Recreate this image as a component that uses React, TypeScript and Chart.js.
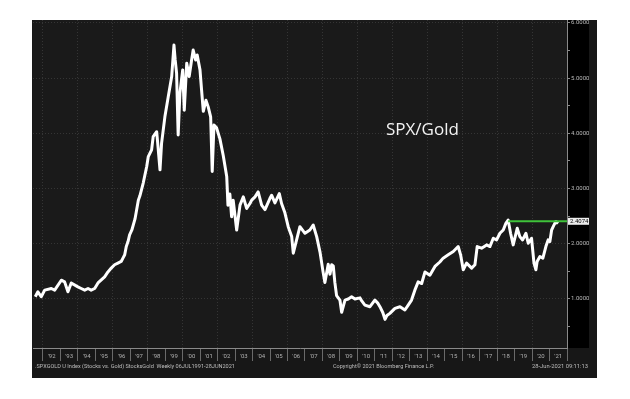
import React, { useEffect, useRef } from "react";
import { Chart, registerables } from "chart.js";

Chart.register(...registerables);

// ---- data ----
const years = [
  1991.56, 1991.71, 1991.9, 1992.1, 1992.48, 1992.67, 1993.05, 1993.24, 1993.43, 1993.62,
  1994.0, 1994.19, 1994.39, 1994.58, 1994.76, 1994.96, 1995.15, 1995.53, 1995.72, 1995.91,
  1996.1, 1996.29, 1996.48, 1996.58, 1996.68, 1996.77, 1996.87, 1996.96, 1997.09, 1997.27,
  1997.46, 1997.55, 1997.74, 1997.94, 1998.03, 1998.22, 1998.31, 1998.51, 1998.57, 1998.7,
  1998.79, 1998.98, 1999.17, 1999.37, 1999.5, 1999.57, 1999.65, 1999.74, 1999.84, 2000.0,
  2000.09, 2000.23, 2000.37, 2000.51, 2000.6, 2000.74, 2000.83, 2000.99, 2001.08, 2001.18,
  2001.33, 2001.46, 2001.6, 2001.69, 2001.79, 2001.94, 2002.13, 2002.32, 2002.52, 2002.59,
  2002.7, 2002.8, 2002.89, 2003.09, 2003.28, 2003.47, 2003.66, 2003.85, 2003.95, 2004.14,
  2004.32, 2004.52, 2004.71, 2004.99, 2005.09, 2005.28, 2005.53, 2005.66, 2005.85, 2006.04,
  2006.24, 2006.33, 2006.52, 2006.71, 2007.0, 2007.28, 2007.47, 2007.67, 2007.86, 2008.03,
  2008.14, 2008.33, 2008.43, 2008.53, 2008.62, 2008.71, 2008.81, 2009.0, 2009.1, 2009.29,
  2009.48, 2009.67, 2009.86, 2010.15, 2010.26, 2010.43, 2010.72, 2011.0, 2011.18, 2011.29,
  2011.46, 2011.58, 2011.69, 2011.86, 2012.15, 2012.44, 2012.72, 2012.91, 2013.1, 2013.29,
  2013.48, 2013.68, 2013.87, 2014.15, 2014.44, 2014.72, 2014.91, 2015.2, 2015.49, 2015.77,
  2015.91, 2016.06, 2016.25, 2016.54, 2016.73, 2016.86, 2017.11, 2017.4, 2017.59, 2017.78,
  2017.97, 2018.16, 2018.35, 2018.5, 2018.63, 2018.77, 2018.92, 2019.15, 2019.3, 2019.46,
  2019.65, 2019.78, 2019.97, 2020.11, 2020.22, 2020.29, 2020.45, 2020.62, 2020.79, 2020.92,
  2021.02, 2021.12, 2021.21, 2021.35, 2021.42, 2021.48,
];

const ratio = [
  1.04, 1.13, 1.04, 1.16, 1.19, 1.16, 1.34, 1.31, 1.13, 1.29,
  1.22, 1.19, 1.16, 1.19, 1.16, 1.19, 1.29, 1.4, 1.49, 1.56,
  1.62, 1.65, 1.68, 1.74, 1.8, 1.95, 2.04, 2.16, 2.25, 2.45,
  2.79, 2.87, 3.1, 3.4, 3.58, 3.7, 3.94, 4.03, 3.82, 3.34,
  3.82, 4.3, 4.66, 5.03, 5.6, 5.33, 5.09, 3.97, 4.73, 5.15,
  4.42, 5.27, 5.03, 5.33, 5.51, 5.33, 5.42, 5.15, 4.79, 4.4,
  4.6, 4.48, 4.3, 3.31, 4.15, 4.1, 3.9, 3.6, 3.22, 2.7,
  2.9, 2.49, 2.79, 2.25, 2.7, 2.85, 2.64, 2.73, 2.79, 2.85,
  2.94, 2.7, 2.62, 2.82, 2.88, 2.74, 2.91, 2.73, 2.56, 2.31,
  2.13, 1.83, 2.07, 2.31, 2.19, 2.25, 2.34, 2.13, 1.85, 1.5,
  1.3, 1.63, 1.45, 1.62, 1.6, 1.3, 1.06, 0.98, 0.76, 0.98,
  1.0, 1.04, 1.0, 1.02, 0.96, 0.89, 0.86, 0.98, 0.92, 0.86,
  0.75, 0.63, 0.7, 0.74, 0.83, 0.86, 0.8, 0.89, 0.98, 1.16,
  1.31, 1.28, 1.49, 1.43, 1.59, 1.67, 1.74, 1.8, 1.86, 1.95,
  1.8, 1.53, 1.65, 1.56, 1.62, 1.95, 1.92, 1.98, 1.95, 2.1,
  2.07, 2.19, 2.25, 2.37, 2.43, 2.19, 1.98, 2.28, 2.13, 2.07,
  2.19, 2.01, 2.1, 1.65, 1.53, 1.68, 1.77, 1.74, 1.95, 2.07,
  2.04, 2.25, 2.31, 2.4, 2.38, 2.41,
];

const lastValue = 2.4074;
const levelStart = 2018.63;
const levelEnd = 2022.0;

const tickYears = [
  1992, 1993, 1994, 1995, 1996, 1997, 1998, 1999, 2000, 2001, 2002, 2003, 2004, 2005, 2006,
  2007, 2008, 2009, 2010, 2011, 2012, 2013, 2014, 2015, 2016, 2017, 2018, 2019, 2020, 2021,
];
const yearLabels = [
  "'92", "'93", "'94", "'95", "'96", "'97", "'98", "'99", "'00", "'01", "'02", "'03", "'04", "'05", "'06",
  "'07", "'08", "'09", "'10", "'11", "'12", "'13", "'14", "'15", "'16", "'17", "'18", "'19", "'20", "'21",
];
const yTickValues = [0.5, 1, 1.5, 2, 2.5, 3, 3.5, 4, 4.5, 5, 5.5, 6];

const titleText = "SPX/Gold";
const footerLeft = ".SPXGOLD U Index (Stocks vs. Gold) StocksGold  Weekly 06JUL1991-28JUN2021";
const footerMid = "Copyright\u00A9 2021 Bloomberg Finance L.P.";
const footerRight = "28-Jun-2021 09:11:13";

const decorPlugin = {
  id: "decor",
  beforeDraw(chart: any) {
    const { ctx, chartArea: a } = chart;
    ctx.save();
    ctx.fillStyle = "#ffffff";
    ctx.fillRect(0, 0, chart.width, chart.height);
    ctx.fillStyle = "#171717";
    ctx.fillRect(a.left - 1, a.top, 597 - (a.left - 1), 378 - a.top);
    ctx.fillStyle = "#1a1a1a";
    ctx.fillRect(a.left, a.top, a.right - a.left, a.bottom - a.top);
    ctx.fillStyle = "#000000";
    ctx.fillRect(a.right, a.top, 22, a.bottom - a.top);
    ctx.restore();
  },
  afterDraw(chart: any) {
    const { ctx, chartArea: a } = chart;
    const yS = chart.scales.y;
    ctx.save();
    // title text
    ctx.fillStyle = "#f2f2f2";
    ctx.font = "17px 'Open Sans'";
    ctx.textBaseline = "middle";
    ctx.textAlign = "left";
    ctx.fillText(titleText, 386, 130);
    // last value label
    const py = yS.getPixelForValue(lastValue);
    ctx.fillStyle = "#ececec";
    ctx.fillRect(a.right + 1, py - 3.5, 21, 7);
    ctx.fillStyle = "#000";
    ctx.font = "6px Roboto";
    ctx.fillText(lastValue.toFixed(4), a.right + 3, py + 0.5);
    // footer
    ctx.fillStyle = "#bdbdbd";
    ctx.font = "6px Roboto";
    ctx.fillText(footerLeft, 35, 366.5, 200);
    ctx.fillText(footerMid, 333, 366.5, 101);
    ctx.fillText(footerRight, 532, 366.5, 56);
    ctx.restore();
  },
};

export default function App() {
  const ref = useRef<HTMLCanvasElement | null>(null);
  useEffect(() => {
    document.body.style.margin = "0";
    const canvas = ref.current!;
    const chart = new Chart(canvas, {
      type: "line",
      data: {
        datasets: [
          {
            data: [
              { x: levelStart, y: lastValue },
              { x: levelEnd, y: lastValue },
            ],
            borderColor: "#3fc23a",
            borderWidth: 2,
            pointRadius: 0,
          },
          {
            data: years.map((x, i) => ({ x, y: ratio[i] })),
            borderColor: "#ffffff",
            borderWidth: 3,
            pointRadius: 0,
            tension: 0,
            borderJoinStyle: "round",
          },
        ],
      },
      options: {
        animation: false,
        responsive: false,
        devicePixelRatio: 1,
        layout: { padding: { left: 33, top: 20, right: 41, bottom: 21 } },
        plugins: { legend: { display: false }, tooltip: { enabled: false } },
        scales: {
          x: {
            type: "linear",
            min: 1991.43,
            max: 2022.0,
            afterBuildTicks: (scale: any) => {
              scale.ticks = tickYears.map((y) => ({ value: y + 0.5 }));
            },
            afterFit: (scale: any) => {
              scale.height = 30;
            },
            ticks: {
              color: "#b0b0b0",
              font: { size: 6, family: "Roboto" },
              padding: -8,
              maxRotation: 0,
              autoSkip: false,
              callback: (_v: any, i: number) => yearLabels[i],
            },
            grid: {
              offset: true,
              color: (c: any) => (c.index % 2 === 0 ? "#353535" : "rgba(0,0,0,0)"),
              tickColor: "#6a6a6a",
              tickLength: 13,
              lineWidth: 1,
            },
            border: { display: true, color: "#8a8a8a", width: 1, dash: [1, 2] },
          },
          y: {
            type: "linear",
            position: "right",
            min: 0.112,
            max: 6.054,
            afterBuildTicks: (scale: any) => {
              scale.ticks = yTickValues.map((v) => ({ value: v }));
            },
            afterFit: (scale: any) => {
              scale.width = 22;
            },
            ticks: {
              color: "#b8b8b8",
              font: { size: 6, family: "Roboto" },
              padding: 1,
              autoSkip: false,
              callback: (v: any) => (Number.isInteger(v) ? Number(v).toFixed(4) : ""),
            },
            grid: {
              color: (c: any) =>
                c.tick && Number.isInteger(c.tick.value) ? "#353535" : "rgba(0,0,0,0)",
              tickColor: "#8a8a8a",
              tickLength: 3,
            },
            border: { display: true, color: "#8a8a8a", width: 1, dash: [1, 2] },
          },
        },
      },
      plugins: [decorPlugin],
    } as any);
    return () => chart.destroy();
  }, []);
  return (
    <div style={{ position: "absolute", left: 0, top: 0, width: 630, height: 399, background: "#fff" }}>
      <canvas ref={ref} width={630} height={399} style={{ display: "block" }} />
    </div>
  );
}
